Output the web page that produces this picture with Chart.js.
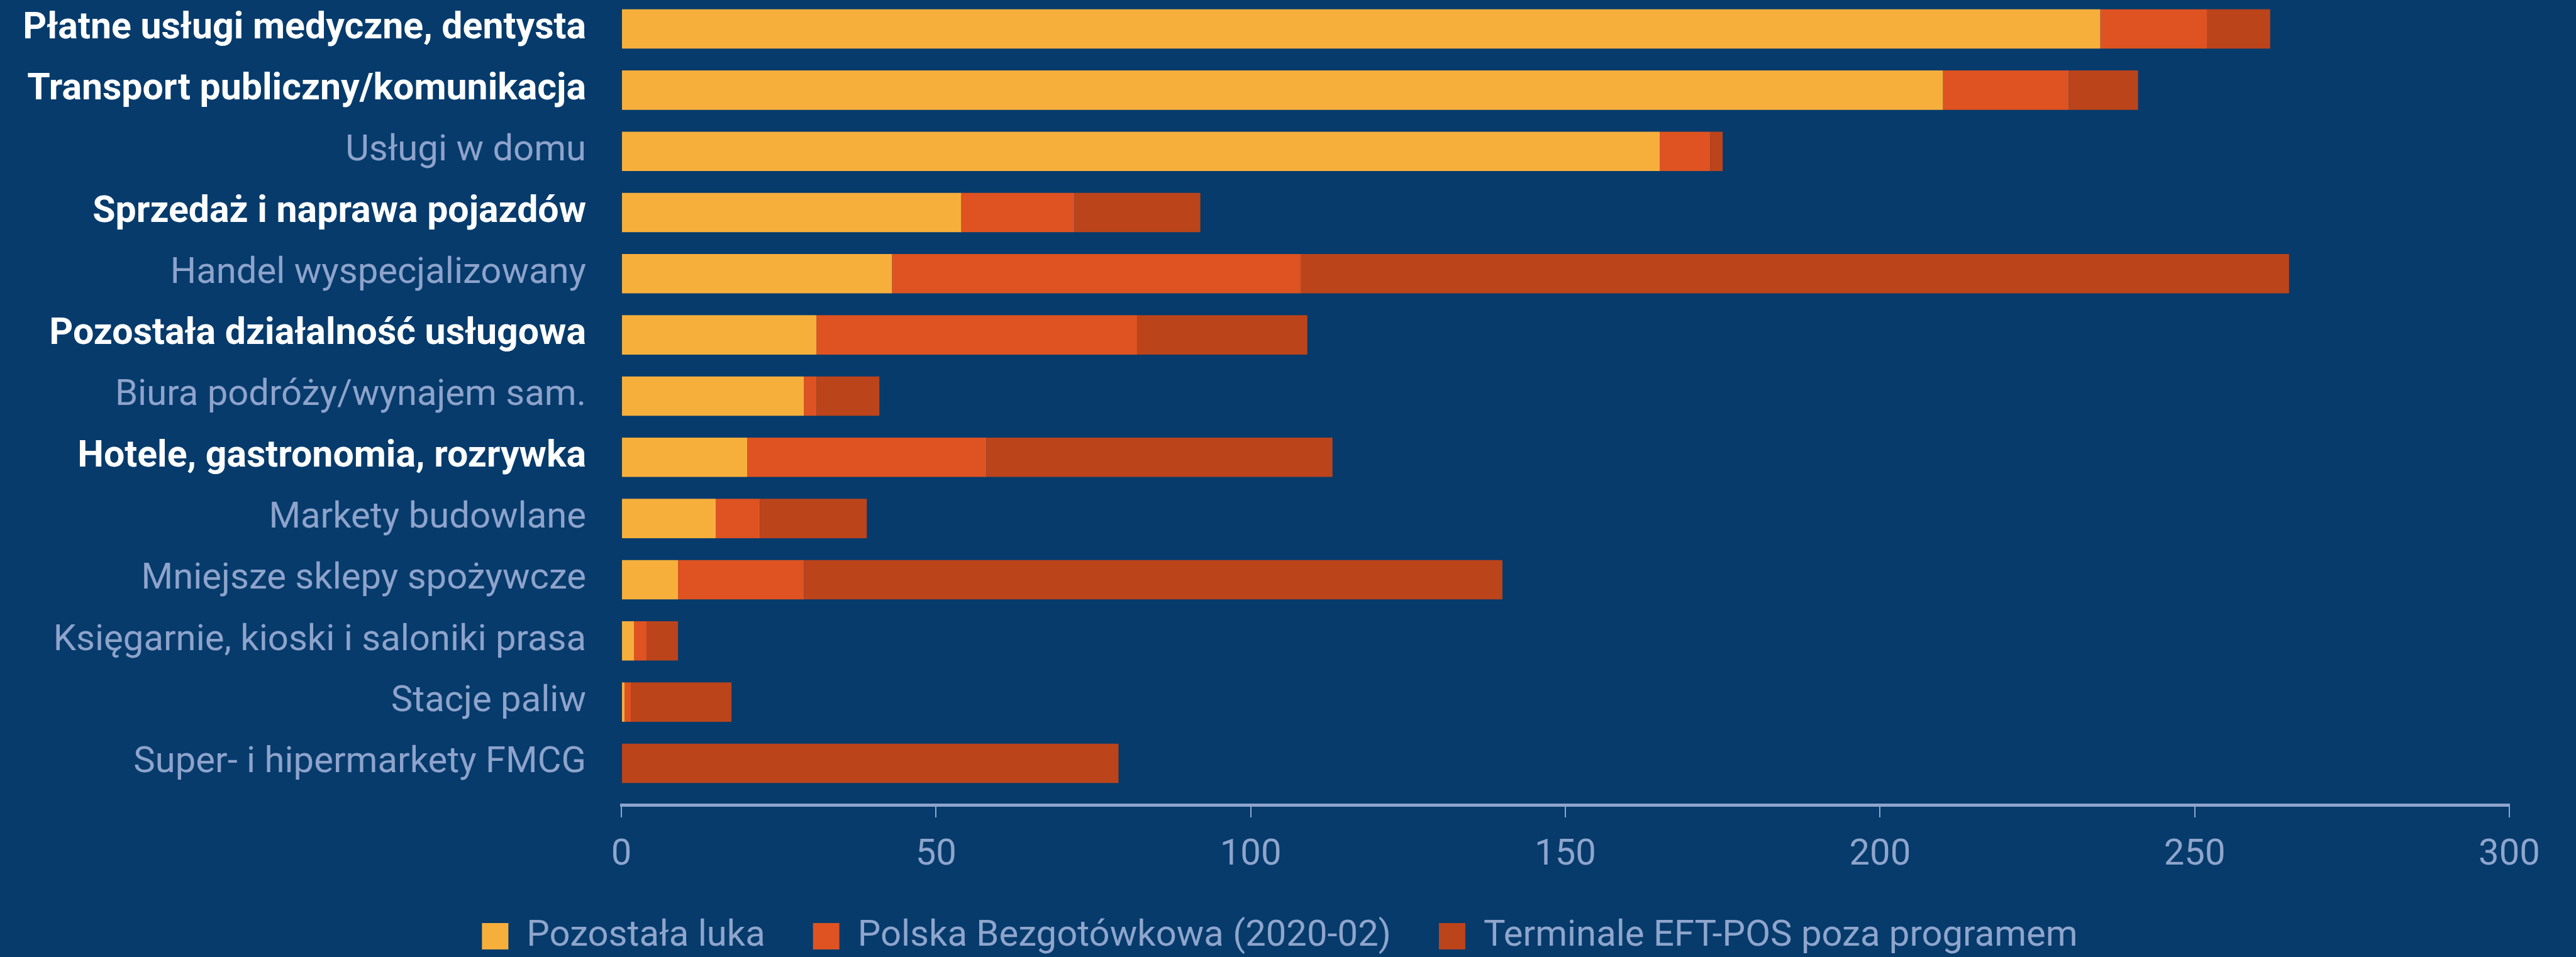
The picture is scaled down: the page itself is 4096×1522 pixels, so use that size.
<!DOCTYPE html>
<html>
<head>
<meta charset="utf-8">
<script src="https://cdn.jsdelivr.net/npm/chart.js@4/dist/chart.umd.min.js"></script>
<style>
    html, body { margin: 0; padding: 0; background: #063B6C; }
    #wrap { width: 4096px; height: 1522px; }
</style>
</head>
<body>
<div id="wrap"><canvas id="gapChart" width="4096" height="1522"></canvas></div>
<script>
const categories = [
    'Płatne usługi medyczne, dentysta',
    'Transport publiczny/komunikacja',
    'Usługi w domu',
    'Sprzedaż i naprawa pojazdów',
    'Handel wyspecjalizowany',
    'Pozostała działalność usługowa',
    'Biura podróży/wynajem sam.',
    'Hotele, gastronomia, rozrywka',
    'Markety budowlane',
    'Mniejsze sklepy spożywcze',
    'Księgarnie, kioski i saloniki prasa',
    'Stacje paliw',
    'Super- i hipermarkety FMCG'
];
const boldRows = [true, true, false, true, false, true, false, true, false, false, false, false, false];

const seriesNames = ['Pozostała luka', 'Polska Bezgotówkowa (2020-02)', 'Terminale EFT-POS poza programem'];
const pozostalaLuka = [235, 210, 165, 54, 43, 31, 29, 20, 15, 9, 2, 0.5, 0];
const polskaBezgotowkowa = [17, 20, 8, 18, 65, 51, 2, 38, 7, 20, 2, 1, 0];
const terminaleEftPos = [10, 11, 2, 20, 157, 27, 10, 55, 17, 111, 5, 16, 79];

const xTicks = [0, 50, 100, 150, 200, 250, 300];

const axisColor = '#8FA5CC';
const labelFont = 'Roboto';

function toPoints(values) {
    return values.map((v, i) => ({ x: v, y: i }));
}

const ctx = document.getElementById('gapChart').getContext('2d');

new Chart(ctx, {
    type: 'bar',
    data: {
        datasets: [
            { label: seriesNames[0], data: toPoints(pozostalaLuka), backgroundColor: '#F7AF3C' },
            { label: seriesNames[1], data: toPoints(polskaBezgotowkowa), backgroundColor: '#DE5321' },
            { label: seriesNames[2], data: toPoints(terminaleEftPos), backgroundColor: '#BB441B' }
        ]
    },
    options: {
        indexAxis: 'y',
        responsive: false,
        animation: false,
        datasets: {
            bar: { categoryPercentage: 1, barPercentage: 0.643 }
        },
        layout: {
            padding: { left: 0, right: 26, top: 0, bottom: -6 }
        },
        scales: {
            x: {
                type: 'linear',
                stacked: true,
                min: 0,
                max: 300,
                afterFit: (scale) => { scale.height = 104; },
                afterBuildTicks: (scale) => { scale.ticks = xTicks.map(v => ({ value: v })); },
                grid: {
                    drawOnChartArea: false,
                    drawTicks: true,
                    tickLength: 20,
                    color: axisColor,
                    lineWidth: 2
                },
                border: { display: true, color: axisColor, width: 5 },
                ticks: {
                    color: axisColor,
                    padding: 26,
                    font: { family: labelFont, size: 58 }
                }
            },
            y: {
                type: 'linear',
                stacked: true,
                reverse: true,
                offset: false,
                bounds: 'data',
                min: -0.473,
                max: 12.679,
                afterBuildTicks: (scale) => { scale.ticks = categories.map((_, i) => ({ value: i })); },
                afterFit: (scale) => {
                    scale.width = 988;
                    scale.paddingTop = 0;
                    scale.paddingBottom = 0;
                },
                grid: { display: false, drawTicks: false, offset: false },
                border: { display: false },
                ticks: {
                    padding: 56,
                    autoSkip: false,
                    callback: (value) => categories[value] ?? '',
                    color: (c) => boldRows[c.tick.value] ? '#FFFFFF' : '#8EA3CB',
                    font: (c) => {
                        const bold = boldRows[c.tick && c.tick.value];
                        return { family: labelFont, size: bold ? 59 : 58, weight: bold ? 'bold' : 'normal' };
                    }
                }
            },
            // empty right-hand margin so the legend stays centred on the page
            yRight: {
                type: 'linear',
                position: 'right',
                display: true,
                afterFit: (scale) => { scale.width = 80; },
                grid: { display: false, drawTicks: false },
                border: { display: false },
                ticks: { display: false }
            }
        },
        plugins: {
            tooltip: { enabled: false },
            legend: {
                position: 'bottom',
                align: 'center',
                labels: {
                    boxWidth: 42,
                    boxHeight: 42,
                    padding: 76,
                    color: axisColor,
                    font: { family: labelFont, size: 58 }
                }
            }
        }
    }
});
</script>
</body>
</html>
